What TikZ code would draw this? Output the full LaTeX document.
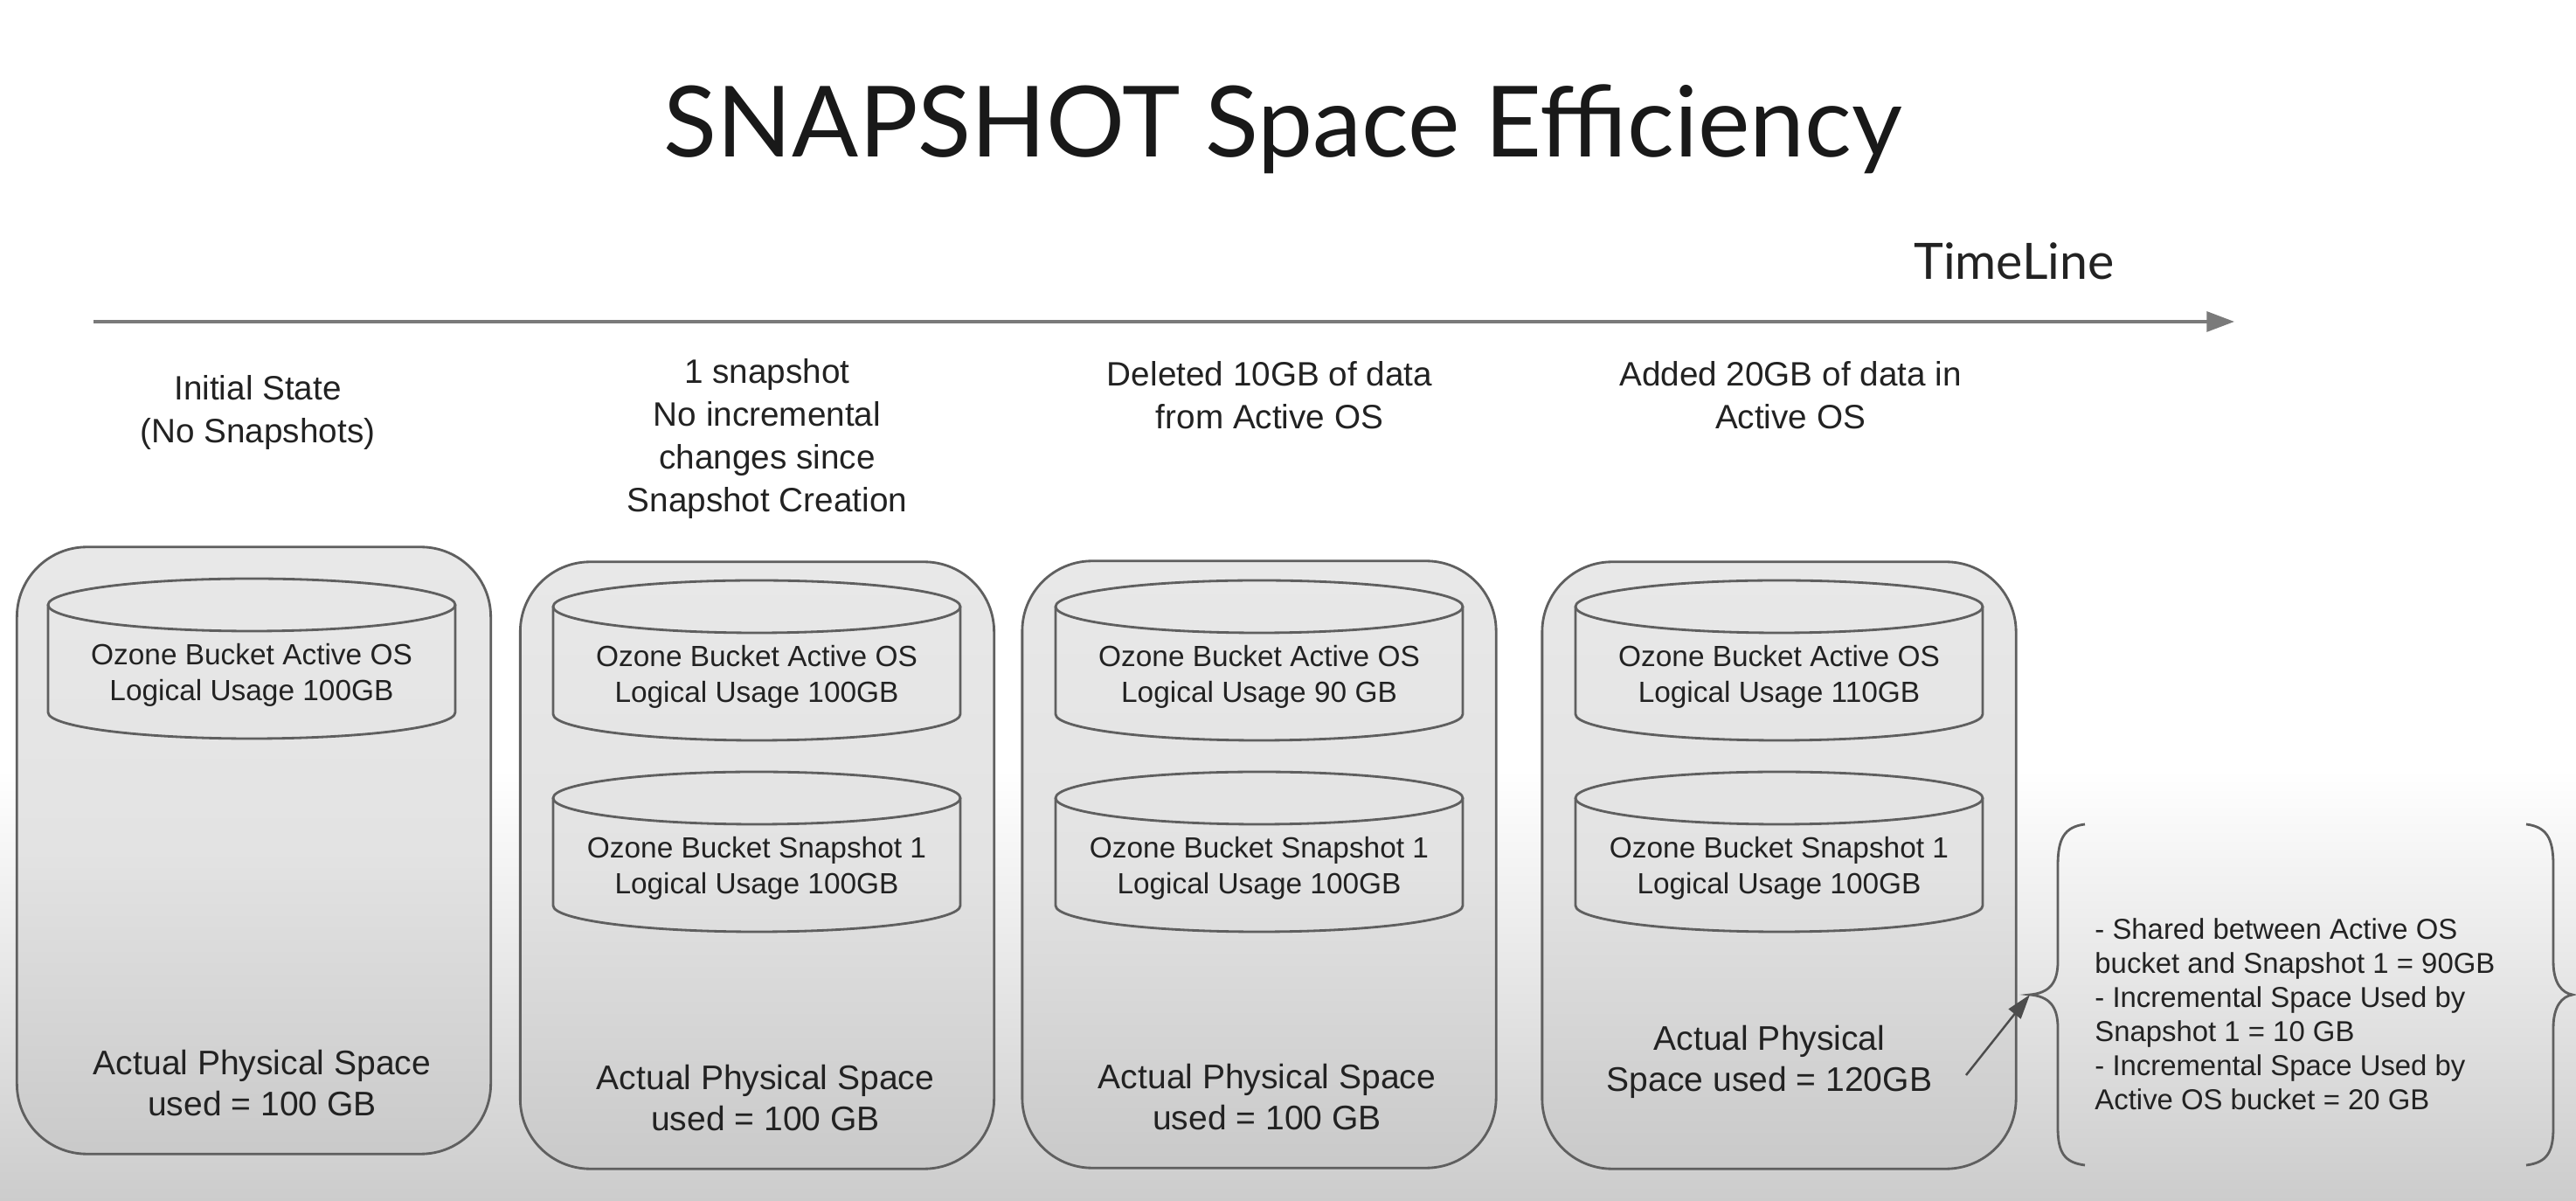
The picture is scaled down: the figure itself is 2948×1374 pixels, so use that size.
\documentclass[tikz,border=0pt]{standalone}
\usepackage{fontspec}
\setmainfont{Liberation Sans}
\newfontfamily\latofont{Lato}
\usetikzlibrary{arrows.meta}
\definecolor{linegray}{HTML}{5F5F5F}
\definecolor{axisgray}{HTML}{7A7A7A}
\definecolor{inkgray}{HTML}{222222}

\begin{document}
\begin{tikzpicture}[x=0.01cm, y=-0.01cm,
    panel/.style={draw=linegray, line width=0.8pt, rounded corners=0.8cm,
        top color=black!9, bottom color=black!21, middle color=black!11,
        minimum width=5.42cm, minimum height=6.94cm, inner sep=0pt},
    drumline/.style={draw=linegray, line width=0.8pt},
    drumtext/.style={align=center, text=inkgray, font=\fontsize{9.5pt}{11.7pt}\selectfont},
    stage/.style={align=center, text=inkgray, font=\fontsize{11pt}{13.9pt}\selectfont},
    usage/.style={align=center, text=inkgray, font=\fontsize{11.1pt}{13.3pt}\selectfont},
    note/.style={align=left, text=inkgray, font=\fontsize{9.35pt}{11.1pt}\selectfont},
    timeaxis/.style={draw=axisgray, line width=1pt, -{Triangle[length=9pt,width=6.5pt]}},
    pointer/.style={draw=black!70, line width=0.7pt, -{Triangle[length=8pt,width=5pt]}},
    bracket/.style={draw=linegray, line width=0.8pt}]
    \useasboundingbox (0,0) rectangle (2948,1374);
    % background
    \fill[white] (0,0) rectangle (2948,880);
    \shade[top color=white, bottom color=black!20] (0,880) rectangle (2948,1374);

    % title and time line
    \node[anchor=base, text=black!90, font=\latofont\fontsize{32pt}{38pt}\selectfont] (title) at (1468,180) {SNAPSHOT Space Efficiency};
    \node[anchor=base, text=inkgray, font=\latofont\fontsize{16.3pt}{20pt}\selectfont] (tlabel) at (2305,320) {TimeLine};
    \coordinate (t0) at (107,368);
    \coordinate (t1) at (2557,368);
    \draw[timeaxis] (t0) -- (t1);

    % stages
    \node[stage] (s1) at (295,472) {Initial State\\(No Snapshots)};
    \node[stage] (s2) at (878,502) {1 snapshot\\No incremental\\changes since\\Snapshot Creation};
    \node[stage] (s3) at (1453,452) {Deleted 10GB of data\\from Active OS};
    \node[stage] (s4) at (2049,452) {Added 20GB of data in\\Active OS};

    % panels
    \node[panel] (box1) at (290.5,973) {};
    \node[panel] (box2) at (866.5,990) {};
    \node[panel] (box3) at (1441,989) {};
    \node[panel] (box4) at (2036,990) {};

    % buckets: name / left / top / text
    \foreach \name/\lx/\ty/\txt in {
        act1/55/662/{Ozone Bucket Active OS\\Logical Usage 100GB},
        act2/633/664/{Ozone Bucket Active OS\\Logical Usage 100GB},
        snap2/633/883/{Ozone Bucket Snapshot 1\\Logical Usage 100GB},
        act3/1208/664/{Ozone Bucket Active OS\\Logical Usage 90 GB},
        snap3/1208/883/{Ozone Bucket Snapshot 1\\Logical Usage 100GB},
        act4/1803/664/{Ozone Bucket Active OS\\Logical Usage 110GB},
        snap4/1803/883/{Ozone Bucket Snapshot 1\\Logical Usage 100GB}} {
        \draw[drumline] (\lx+233,\ty+30) ellipse [x radius=233, y radius=30];
        \draw[drumline] (\lx,\ty+30) -- (\lx,\ty+153)
            arc[start angle=180, end angle=0, x radius=233, y radius=30] -- (\lx+466,\ty+30);
        \node[drumtext] (\name) at (\lx+233,\ty+110) {\txt};
    }

    % physical space
    \node[usage] (u1) at (300,1239) {Actual Physical Space\\used = 100 GB};
    \node[usage] (u2) at (876,1256) {Actual Physical Space\\used = 100 GB};
    \node[usage] (u3) at (1450,1255) {Actual Physical Space\\used = 100 GB};
    \node[usage] (u4) at (2025,1215) {Actual Physical\\Space used = 120GB};

    % breakdown
    \coordinate (bracetip) at (2323,1138);
    \draw[bracket] (2386,943) .. controls (2362,946) and (2355,960) .. (2355,990) -- (2355,1100)
        .. controls (2355,1125) and (2345,1136) .. (bracetip)
        .. controls (2345,1140) and (2355,1151) .. (2355,1176) -- (2355,1290)
        .. controls (2355,1318) and (2362,1330) .. (2386,1333);
    \draw[bracket] (2891,943) .. controls (2915,946) and (2922,960) .. (2922,990) -- (2922,1100)
        .. controls (2922,1125) and (2932,1136) .. (2944,1138)
        .. controls (2932,1140) and (2922,1151) .. (2922,1176) -- (2922,1290)
        .. controls (2922,1318) and (2915,1330) .. (2891,1333);
    \node[note, anchor=west] (split) at (2385,1160) {- Shared between Active OS\\bucket and Snapshot 1 = 90GB\\- Incremental Space Used by\\Snapshot 1 = 10 GB\\- Incremental Space Used by\\Active OS bucket = 20 GB};
    \coordinate (foot) at (2250,1230);
    \draw[pointer] (foot) -- (bracetip);
\end{tikzpicture}
\end{document}
